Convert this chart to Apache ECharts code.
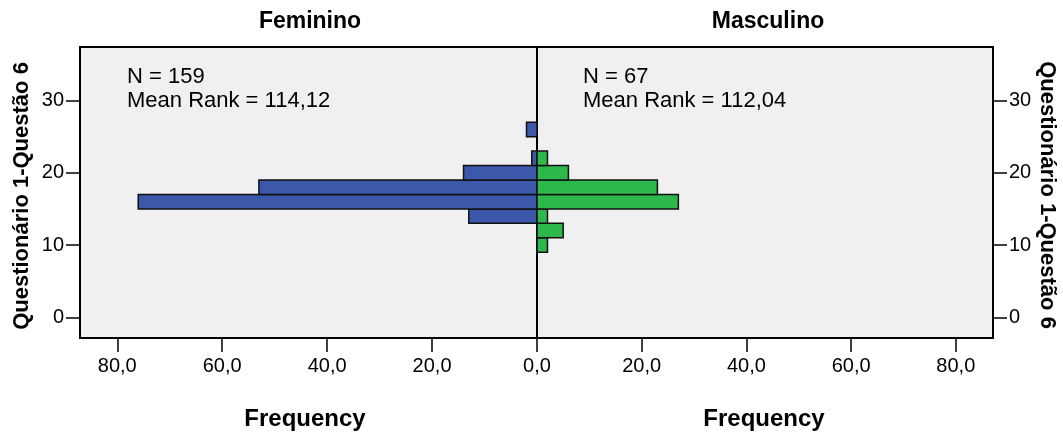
<!DOCTYPE html>
<html>
<head>
<meta charset="utf-8">
<script src="https://cdn.jsdelivr.net/npm/echarts@6/dist/echarts.min.js"></script>
<style>
  html, body { margin: 0; padding: 0; background: #fff; }
  #chart { width: 1063px; height: 440px; }
</style>
</head>
<body>
<div id="chart"></div>
<script>
// histogram bins (lower edge, width 2)
var binLow = [9, 11, 13, 15, 17, 19, 21, 23, 25];
var binWidth = 2;
var femCounts = [0, 0, 13, 76, 53, 14, 1, 0, 2];
var mascCounts = [2, 5, 2, 27, 23, 6, 2, 0, 0];
var freqTicks = [0, 20, 40, 60, 80];
var rankTicks = [0, 10, 20, 30];
var groupNames = ['Feminino', 'Masculino'];
var groupInfo = ['N = 159\nMean Rank = 114,12', 'N = 67\nMean Rank = 112,04'];

var FONT = '"Liberation Sans", Arial, sans-serif';

function binData(counts){
    var out = [];
    for (var i = 0; i < binLow.length; i++) {
        if (counts[i] > 0) out.push([binLow[i], binLow[i] + binWidth, counts[i]]);
    }
    return out;
}

function drawBin(params, api){
    var p1 = api.coord([0, api.value(0)]);
    var p2 = api.coord([api.value(2), api.value(1)]);
    var x = Math.min(p1[0], p2[0]);
    var y = Math.min(p1[1], p2[1]);
    return {
        type: 'rect',
        shape: { x: x, y: y, width: Math.abs(p2[0] - p1[0]), height: Math.abs(p2[1] - p1[1]) },
        style: api.style()
    };
}

function freqAxis(idx, inverse){
    return {
        gridIndex: idx, type: 'value', inverse: inverse,
        min: 0, max: 87.1, position: 'bottom',
        axisLine: { show: false, onZero: false },
        axisTick: { show: true, length: 14, lineStyle: { color: '#000', width: 1.5 }, customValues: freqTicks },
        axisLabel: {
            color: '#000', fontSize: 20, fontFamily: FONT, margin: 18,
            customValues: idx === 0 ? freqTicks : freqTicks.slice(1),
            formatter: function(v){ return v.toFixed(1).replace('.', ','); }
        },
        splitLine: { show: false }
    };
}

function rankAxis(idx, pos){
    return {
        gridIndex: idx, type: 'value', position: pos,
        min: -2.86, max: 37.4,
        axisLine: { show: false, onZero: false },
        axisTick: { show: true, length: 14, lineStyle: { color: '#000', width: 1.5 }, customValues: rankTicks },
        axisLabel: { color: '#000', fontSize: 20, fontFamily: FONT, margin: 16, customValues: rankTicks },
        splitLine: { show: false }
    };
}

var chart = echarts.init(document.getElementById('chart'));
chart.setOption({
    animation: false,
    backgroundColor: '#fff',
    grid: [
        { left: 80, top: 47, width: 457, height: 291, show: true, backgroundColor: '#f0f0f0', borderColor: '#000', borderWidth: 2 },
        { left: 537, top: 47, width: 456, height: 291, show: true, backgroundColor: '#f0f0f0', borderColor: '#000', borderWidth: 2 }
    ],
    xAxis: [freqAxis(0, true), freqAxis(1, false)],
    yAxis: [rankAxis(0, 'left'), rankAxis(1, 'right')],
    series: [
        {
            type: 'custom', name: groupNames[0], xAxisIndex: 0, yAxisIndex: 0,
            renderItem: drawBin, encode: { x: 2, y: [0, 1] },
            itemStyle: { color: '#3c58ab', borderColor: '#111', borderWidth: 1.5 },
            data: binData(femCounts)
        },
        {
            type: 'custom', name: groupNames[1], xAxisIndex: 1, yAxisIndex: 1,
            renderItem: drawBin, encode: { x: 2, y: [0, 1] },
            itemStyle: { color: '#2db84b', borderColor: '#111', borderWidth: 1.5 },
            data: binData(mascCounts)
        }
    ],
    graphic: [
        { type: 'text', x: 310, y: 22, style: { text: groupNames[0], font: 'bold 23px ' + FONT, fill: '#000', textAlign: 'center', textVerticalAlign: 'middle' } },
        { type: 'text', x: 768, y: 22, style: { text: groupNames[1], font: 'bold 23px ' + FONT, fill: '#000', textAlign: 'center', textVerticalAlign: 'middle' } },
        { type: 'text', x: 127, y: 65, style: { text: groupInfo[0], font: '22px ' + FONT, fill: '#000', lineHeight: 24 } },
        { type: 'text', x: 583, y: 65, style: { text: groupInfo[1], font: '22px ' + FONT, fill: '#000', lineHeight: 24 } },
        { type: 'text', x: 305, y: 419, style: { text: 'Frequency', font: 'bold 24px ' + FONT, fill: '#000', textAlign: 'center', textVerticalAlign: 'middle' } },
        { type: 'text', x: 764, y: 419, style: { text: 'Frequency', font: 'bold 24px ' + FONT, fill: '#000', textAlign: 'center', textVerticalAlign: 'middle' } },
        { type: 'text', x: 22, y: 196, rotation: Math.PI / 2, style: { text: 'Questionário 1-Questão 6', font: 'bold 22px ' + FONT, fill: '#000', textAlign: 'center', textVerticalAlign: 'middle' } },
        { type: 'text', x: 1047, y: 195, rotation: -Math.PI / 2, style: { text: 'Questionário 1-Questão 6', font: 'bold 22px ' + FONT, fill: '#000', textAlign: 'center', textVerticalAlign: 'middle' } }
    ]
});
</script>
</body>
</html>
